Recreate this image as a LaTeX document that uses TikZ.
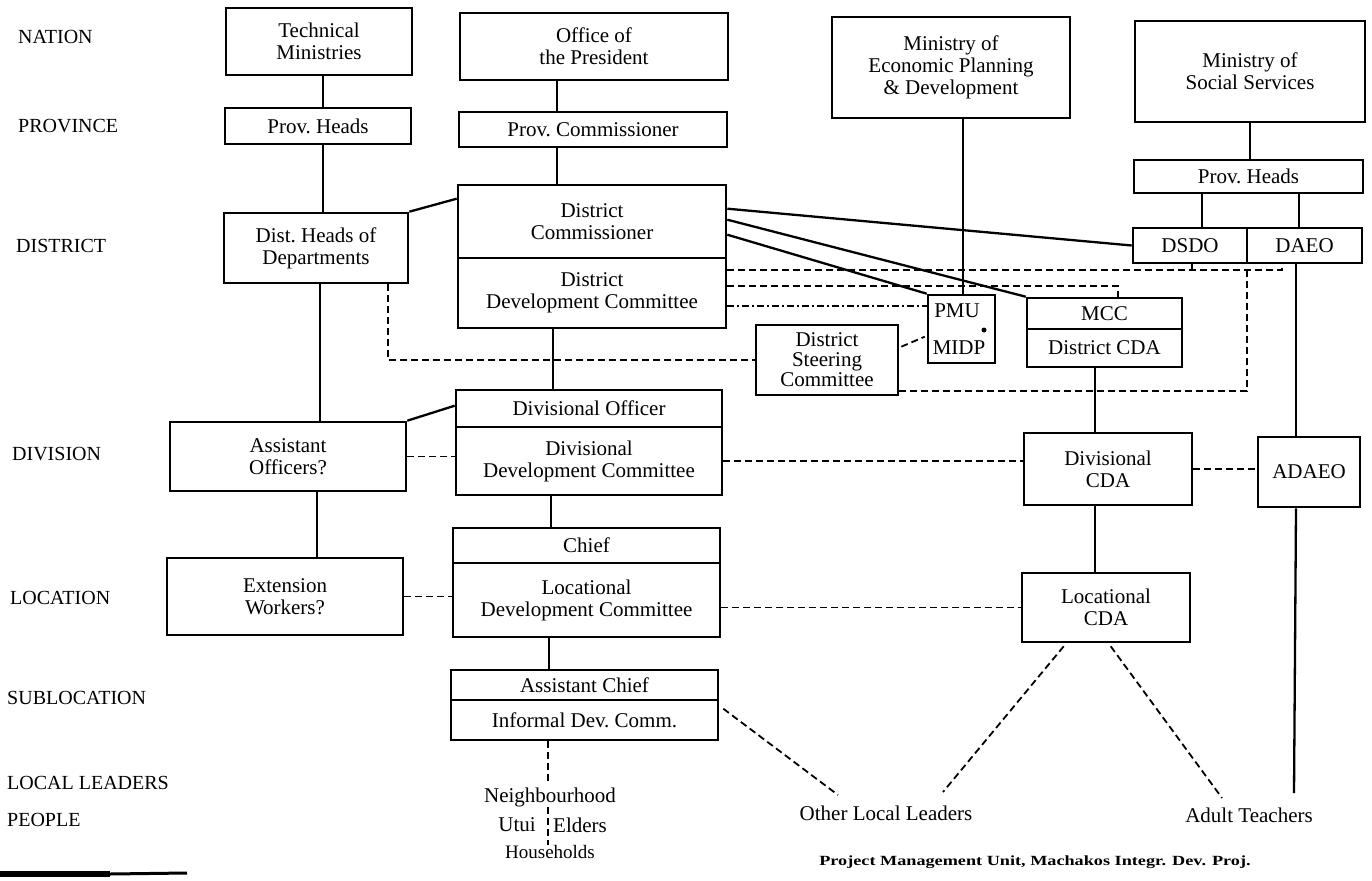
\documentclass[tikz,border=0pt]{standalone}
\usepackage{fontspec}
\usepackage{graphicx}
\setmainfont{Liberation Serif}
\usetikzlibrary{calc}
\newcommand\boxfont{\fontsize{21}{22}\selectfont}
\newcommand\levelfont{\fontsize{20}{22}\selectfont}
\tikzset{
  orgbox/.style={draw, line width=2.6pt, inner sep=0pt, align=center, font=\boxfont},
  plaintext/.style={inner sep=0pt, align=center, font=\boxfont},
  level/.style={inner sep=0pt, anchor=west, font=\levelfont},
  link/.style={line width=2.3pt},
  dashedlink/.style={line width=1.8pt, dash pattern=on 7pt off 4pt},
  dashdotlink/.style={line width=1.8pt, dash pattern=on 7pt off 3pt on 2pt off 3pt},
}
% box from corner (x1,y1) to corner (x2,y2)
\newcommand\orgunit[6]{\node[orgbox, minimum width={#4pt-#2pt}, minimum height={#5pt-#3pt}] (#1) at ({(#2+#4)/2},{(#3+#5)/2}) {#6};}
\begin{document}
\begin{tikzpicture}[x=1pt, y=-1pt]
\useasboundingbox (0,0) rectangle (1372,880);

% administrative levels
\node[level] (lnation)   at (18,37)  {NATION};
\node[level] (lprovince) at (18,126) {PROVINCE};
\node[level] (ldistrict) at (16,246) {DISTRICT};
\node[level] (ldivision) at (12,454) {DIVISION};
\node[level] (llocation) at (10,598) {LOCATION};
\node[level] (lsubloc)   at (7,698)  {SUBLOCATION};
\node[level] (lleaders)  at (7,783)  {LOCAL LEADERS};
\node[level] (lpeople)   at (7,820)  {PEOPLE};

% technical ministries column
\orgunit{tm}{226}{8}{412}{75}{Technical\\Ministries}
\orgunit{ph1}{225}{108}{411}{144}{Prov.~Heads}
\orgunit{dh}{224}{213}{408}{283}{Dist.~Heads of\\Departments}
\orgunit{ao}{170}{422}{406}{491}{Assistant\\Officers?}
\orgunit{ew}{167}{558}{403}{635}{Extension\\Workers?}

% provincial administration column
\orgunit{op}{460}{13}{728}{80}{Office of\\the President}
\orgunit{pc}{459}{112}{727}{147}{Prov.~Commissioner}
\orgunit{dc}{458}{185}{726}{258}{District\\Commissioner}
\orgunit{ddc}{458}{258}{726}{328}{District\\Development Committee}
\orgunit{do}{456}{390}{722}{427}{Divisional Officer}
\orgunit{dvdc}{456}{427}{722}{495}{Divisional\\Development Committee}
\orgunit{chief}{453}{528}{720}{563}{Chief}
\orgunit{ldc}{453}{563}{720}{637}{Locational\\Development Committee}
\orgunit{ac}{451}{670}{718}{700}{Assistant Chief}
\orgunit{idc}{451}{700}{718}{740}{Informal Dev.~Comm.}

% planning ministry and project units
\orgunit{mep}{832}{17}{1070}{118}{Ministry of\\Economic Planning\\\& Development}
\orgunit{pmu}{928}{295}{995}{363}{}
\node[plaintext] (pmutxt) at (957,311) {PMU};
\node[plaintext] (midptxt) at (959,348) {MIDP};
\node[circle, fill, inner sep=0pt, minimum size=5pt] (pmudot) at (984,330) {};
\node[orgbox, minimum width=142pt, minimum height=70pt, execute at begin node={\setlength{\baselineskip}{20pt}}] (dsc) at (827,360) {District\\Steering\\Committee};
\orgunit{mcc}{1027}{298}{1182}{329}{MCC}
\orgunit{dcda}{1027}{329}{1182}{367}{District CDA}
\orgunit{divcda}{1024}{433}{1192}{505}{Divisional\\CDA}
\orgunit{loccda}{1022}{573}{1190}{642}{Locational\\CDA}

% social services column
\orgunit{mss}{1135}{21}{1365}{122}{Ministry of\\Social Services}
\orgunit{ph2}{1134}{160}{1363}{193}{Prov.~Heads}
\orgunit{dsdo}{1133}{228}{1247}{263}{DSDO}
\orgunit{daeo}{1247}{228}{1362}{263}{DAEO}
\orgunit{adaeo}{1258}{437}{1360}{507}{ADAEO}

% people at the bottom
\node[plaintext] (nbh) at (550,797) {Neighbourhood};
\node[plaintext, anchor=east] (utui) at (536,825) {Utui};
\node[plaintext, anchor=west] (elders) at (553,825) {Elders};
\node[plaintext, font=\fontsize{19}{20}\selectfont] (hh) at (550,852) {Households};
\node[plaintext] (oll) at (886,813) {Other Local Leaders};
\node[plaintext] (adultt) at (1249,815) {Adult Teachers};
\node[inner sep=0pt, font=\fontsize{14}{16}\selectfont\bfseries] (credit) at (1035,862)
  {\scalebox{1.3}[1]{Project Management Unit, Machakos Integr. Dev. Proj.}};

% solid lines of authority
\coordinate (xtm) at (323,0);
\coordinate (xdh) at (320,0);
\coordinate (xao) at (317,0);
\draw[link] (tm.south -| xtm) -- (ph1.north -| xtm);
\draw[link] (ph1.south -| xtm) -- (dh.north -| xtm);
\draw[link] (dh.south -| xdh) -- (ao.north -| xdh);
\draw[link] (ao.south -| xao) -- (ew.north -| xao);
\draw[link] (dh.north east) -- ($(dc.north west)+(0,15)$);
\draw[link] (ao.north east) -- ($(do.north west)+(0,17)$);

\coordinate (xop) at (557,0);
\coordinate (xdd) at (553,0);
\coordinate (xdv) at (551,0);
\coordinate (xlc) at (549,0);
\draw[link] (op.south -| xop) -- (pc.north -| xop);
\draw[link] (pc.south -| xop) -- (dc.north -| xop);
\draw[link] (ddc.south -| xdd) -- (do.north -| xdd);
\draw[link] (dvdc.south -| xdv) -- (chief.north -| xdv);
\draw[link] (ldc.south -| xlc) -- (ac.north -| xlc);

\draw[link] ($(dc.north east)+(0,25)$) -- (dsdo.west);
\draw[link] ($(dc.north east)+(0,36)$) -- (mcc.north west);
\draw[link] ($(dc.north east)+(0,51)$) -- (pmu.north west);

\coordinate (xep) at (963,0);
\draw[link] (mep.south -| xep) -- (pmu.north -| xep);

\draw[link] (mss.south) -- (mss.south |- ph2.north);
\coordinate (xds) at (1202,0);
\coordinate (xda) at (1299,0);
\coordinate (xad) at (1296,0);
\draw[link] (ph2.south -| xds) -- (dsdo.north -| xds);
\draw[link] (ph2.south -| xda) -- (daeo.north -| xda);
\draw[link] (daeo.south -| xad) -- (adaeo.north -| xad);
\coordinate (teachtop) at (1294,793);
\draw[link] (adaeo.south -| xad) -- (teachtop);

\coordinate (xcda) at (1095,0);
\draw[link] (dcda.south -| xcda) -- (divcda.north -| xcda);
\draw[link] (divcda.south -| xcda) -- (loccda.north -| xcda);

% dashed lines of coordination
\draw[dashedlink] (ao.east) -- (ao.east -| dvdc.west);
\draw[dashedlink] (ew.east) -- (ew.east -| ldc.west);
\draw[dashedlink] (dvdc.east) -- (dvdc.east -| divcda.west);
\draw[dashedlink] (divcda.east) -- (divcda.east -| adaeo.west);
\draw[dashedlink] (loccda.west -| ldc.east) -- (loccda.west);

\coordinate (ollnw) at (838,795);
\coordinate (ollne) at (943,792);
\coordinate (teachnw) at (1222,798);
\draw[dashedlink] ($(idc.north east)+(4,10)$) -- (ollnw);
\draw[dashedlink] ($(loccda.south west)+(43,3)$) -- (ollne);
\draw[dashedlink] ($(loccda.south west)+(90,3)$) -- (teachnw);

\coordinate (xnb) at (548,0);
\draw[dashedlink] (idc.south -| xnb) -- ($(nbh.north -| xnb)+(0,-4)$);
\draw[dashedlink] (nbh.south -| xnb) -- (hh.north -| xnb);

% district links to the social services officers
\coordinate (aend) at (1282,270);
\coordinate (atick) at (1192,270);
\coordinate (adrop) at (1247,270);
\coordinate (acorner) at (1247,391);
\draw[dashedlink] (ddc.east |- aend) -- (aend) -- (aend |- daeo.south);
\draw[dashedlink] (atick) -- (atick |- dsdo.south);
\draw[dashedlink] (adrop) -- (acorner) -- (acorner -| dsc.east);

% district links to MCC and PMU
\coordinate (bend) at (1118,286);
\draw[dashedlink] (ddc.east |- bend) -- (bend) -- (bend |- mcc.north);
\coordinate (yc) at (0,306);
\draw[dashdotlink] (ddc.east |- yc) -- (pmu.west |- yc);

% steering committee links
\coordinate (xdl) at (388,0);
\draw[dashedlink] (dh.south -| xdl) -- (dsc.west -| xdl) -- (dsc.west);
\draw[dashedlink] ($(dsc.north east)+(2,23)$) -- ($(pmu.north west)+(-2,43)$);

% edge mark at the lower left
\draw[line width=6pt] (0,874) -- (110,874);
\draw[line width=3pt] (110,874) -- (187,873);
\end{tikzpicture}
\end{document}
